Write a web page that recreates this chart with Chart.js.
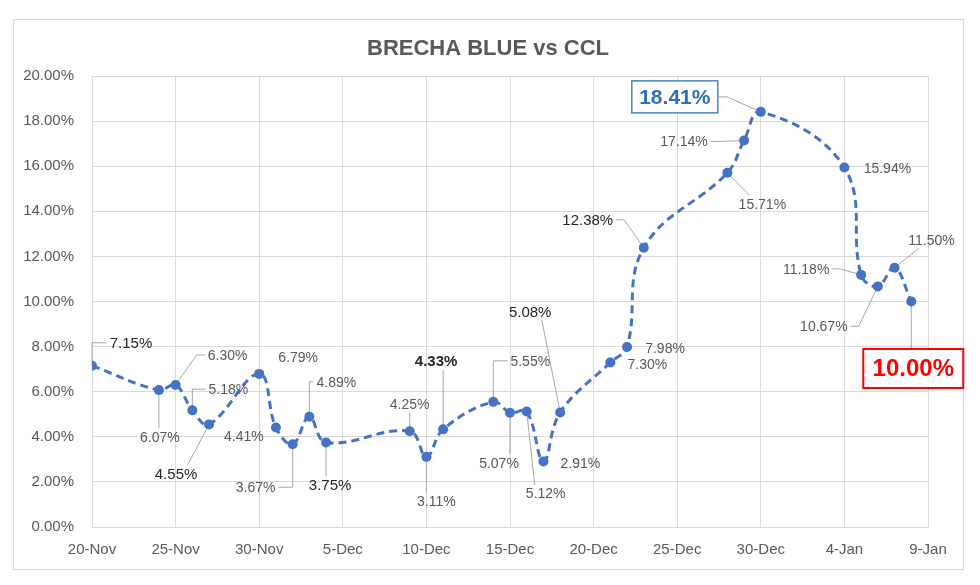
<!DOCTYPE html>
<html>
<head>
<meta charset="utf-8">
<script src="https://cdn.jsdelivr.net/npm/chart.js@4.4.1/dist/chart.umd.min.js"></script>
<style>
  body { margin: 0; background: #fff; }
  canvas { display: block; }
</style>
</head>
<body>
<canvas id="myChart" width="980" height="585"></canvas>
<script>
// daily gap (%) between blue dollar and CCL
const dates = [
  '2020-11-20', '2020-11-24', '2020-11-25', '2020-11-26', '2020-11-27',
  '2020-11-30', '2020-12-01', '2020-12-02', '2020-12-03', '2020-12-04',
  '2020-12-09', '2020-12-10', '2020-12-11', '2020-12-14', '2020-12-15',
  '2020-12-16', '2020-12-17', '2020-12-18', '2020-12-21', '2020-12-22',
  '2020-12-23', '2020-12-28', '2020-12-29', '2020-12-30', '2021-01-04',
  '2021-01-05', '2021-01-06', '2021-01-07', '2021-01-08'
];
const brecha = [
  7.15, 6.07, 6.30, 5.18, 4.55,
  6.79, 4.41, 3.67, 4.89, 3.75,
  4.25, 3.11, 4.33, 5.55, 5.07,
  5.12, 2.91, 5.08, 7.30, 7.98,
  12.38, 15.71, 17.14, 18.41, 15.94,
  11.18, 10.67, 11.50, 10.00
];
const xTickLabels = ['20-Nov', '25-Nov', '30-Nov', '5-Dec', '10-Dec', '15-Dec',
                     '20-Dec', '25-Dec', '30-Dec', '4-Jan', '9-Jan'];

// label placement (offset from point in px), leader type and look
const labelOffsets = [
  [39, -23], [1, 47], [52, -30], [36, -21], [-33, 49],
  [39, -17], [-32, 9], [-37, 43], [27, -35], [4, 42],
  [0, -27], [10, 44], [-7, -68], [37, -41], [-11, 50],
  [19, 82], [37, 2], [-30, -101], [37, 2], [38, 1],
  [-56, -28], [35, 31], [-60, 1], [-86, -15], [43, 1],
  [-55, -6], [-54, 40], [37, -28], [2, 67]
];
const leaderModes = [
  'h', 'v', 'h', 'h', 'v',
  '', '', 'h', 'h', 'v',
  'v', 'v', 'v', 'h', 'v',
  'v', '', 'v', '', '',
  'h', 'v', 'h', 'h', '',
  'h', 'h', 'v', 'v'
];
const labelLooks = [
  'big', 'n', 'n', 'n', 'big',
  'n', 'n', 'n', 'n', 'big',
  'n', 'n', 'bold', 'n', 'n',
  'n', 'n', 'big', 'n', 'n',
  'big', 'n', 'n', 'blue', 'n',
  'n', 'n', 'n', 'red'
];

const FONT = "'Liberation Sans', Arial, sans-serif";
const looks = {
  n:    { font: '14px ' + FONT, color: '#595959' },
  big:  { font: '15px ' + FONT, color: '#262626' },
  bold: { font: 'bold 15px ' + FONT, color: '#262626' },
  blue: { font: 'bold 21px ' + FONT, color: '#2F6EBA', box: '#4A86C5', bw: 86, bh: 32, lw: 1.5 },
  red:  { font: 'bold 24px ' + FONT, color: '#FF0000', box: '#FF0000', bw: 100, bh: 39, lw: 2 }
};

const day0 = Date.UTC(2020, 10, 20);
function dayOffset(s) {
  const p = s.split('-').map(Number);
  return Math.round((Date.UTC(p[0], p[1] - 1, p[2]) - day0) / 86400000);
}
const points = dates.map((d, i) => ({ x: dayOffset(d), y: brecha[i] }));

function labelGeom(ctx, i, el) {
  const look = looks[labelLooks[i]];
  ctx.font = look.font;
  const text = brecha[i].toFixed(2) + '%';
  const tw = ctx.measureText(text).width;
  const w = look.box ? look.bw : tw + 4;
  const h = look.box ? look.bh : 15;
  return { text, look, cx: el.x + labelOffsets[i][0], cy: el.y + labelOffsets[i][1], w, h };
}

function leaderPath(pt, g, mode) {
  const l = g.cx - g.w / 2 - 1, r = g.cx + g.w / 2 + 1;
  const t = g.cy - g.h / 2 - 1, b = g.cy + g.h / 2 + 1;
  if (mode === 'h') {
    const left = pt.x < g.cx;
    const ax = left ? l : r;
    const ex = Math.abs(pt.x - ax) < 24 ? pt.x : ax + (left ? -8 : 8);
    return [[pt.x, pt.y], [ex, g.cy], [ax, g.cy]];
  }
  if (mode === 'v') {
    const ay = pt.y < g.cy ? t : b;
    const ax = Math.max(g.cx - g.w / 4, Math.min(g.cx + g.w / 4, pt.x));
    return [[pt.x, pt.y], [ax, ay]];
  }
  return null;
}

const decorPlugin = {
  id: 'decor',
  beforeDraw(chart) {
    const ctx = chart.ctx;
    ctx.save();
    ctx.fillStyle = '#fff';
    ctx.fillRect(0, 0, chart.width, chart.height);
    ctx.strokeStyle = '#d9d9d9';
    ctx.lineWidth = 1;
    ctx.strokeRect(13.5, 19.5, 950, 550);
    ctx.fillStyle = '#595959';
    ctx.font = 'bold 22px ' + FONT;
    ctx.textAlign = 'center';
    ctx.textBaseline = 'middle';
    ctx.fillText('BRECHA BLUE vs CCL', 488, 49);
    ctx.restore();
  },
  beforeDatasetsDraw(chart) {
    const ctx = chart.ctx;
    const meta = chart.getDatasetMeta(0);
    ctx.save();
    ctx.strokeStyle = '#a6a6a6';
    ctx.lineWidth = 1;
    meta.data.forEach((el, i) => {
      const path = leaderPath(el, labelGeom(ctx, i, el), leaderModes[i]);
      if (!path) return;
      ctx.beginPath();
      ctx.moveTo(path[0][0], path[0][1]);
      for (let k = 1; k < path.length; k++) ctx.lineTo(path[k][0], path[k][1]);
      ctx.stroke();
    });
    ctx.restore();
  },
  afterDatasetsDraw(chart) {
    const ctx = chart.ctx;
    const meta = chart.getDatasetMeta(0);
    ctx.save();
    ctx.textAlign = 'center';
    ctx.textBaseline = 'middle';
    meta.data.forEach((el, i) => {
      const g = labelGeom(ctx, i, el);
      if (g.look.box) {
        ctx.fillStyle = '#fff';
        ctx.fillRect(g.cx - g.w / 2, g.cy - g.h / 2, g.w, g.h);
        ctx.strokeStyle = g.look.box;
        ctx.lineWidth = g.look.lw;
        ctx.strokeRect(g.cx - g.w / 2, g.cy - g.h / 2, g.w, g.h);
      }
      ctx.font = g.look.font;
      ctx.fillStyle = g.look.color;
      ctx.fillText(g.text, g.cx, g.cy + 1);
    });
    ctx.restore();
  }
};

const ctx = document.getElementById('myChart').getContext('2d');
new Chart(ctx, {
  type: 'line',
  data: {
    datasets: [{
      data: points,
      borderColor: '#4472C4',
      backgroundColor: '#4472C4',
      borderWidth: 3,
      borderDash: [8, 5],
      tension: 0.4,
      pointRadius: 5,
      pointBorderWidth: 0,
      pointBackgroundColor: '#4472C4',
      fill: false
    }]
  },
  options: {
    responsive: false,
    animation: false,
    layout: { padding: { left: 13, right: 52, top: 76, bottom: 0 } },
    plugins: {
      legend: { display: false },
      tooltip: { enabled: false }
    },
    scales: {
      x: {
        type: 'linear',
        min: 0,
        max: 50,
        afterFit: s => { s.height = 58; },
        afterBuildTicks: s => {
          s.ticks = xTickLabels.map((_, i) => ({ value: i * 5 }));
        },
        grid: { color: '#d9d9d9', drawTicks: false },
        border: { color: '#d9d9d9' },
        ticks: {
          padding: 14,
          maxRotation: 0,
          autoSkip: false,
          color: '#595959',
          font: { family: FONT, size: 15 },
          callback: v => xTickLabels[Math.round(v / 5)]
        }
      },
      y: {
        min: 0,
        max: 20,
        afterFit: s => { s.width = 79; },
        grid: { color: '#d9d9d9', drawTicks: false },
        border: { color: '#d9d9d9' },
        ticks: {
          stepSize: 2,
          padding: 18,
          color: '#595959',
          font: { family: FONT, size: 15 },
          callback: v => v.toFixed(2) + '%'
        }
      }
    }
  },
  plugins: [decorPlugin]
});
</script>
</body>
</html>
